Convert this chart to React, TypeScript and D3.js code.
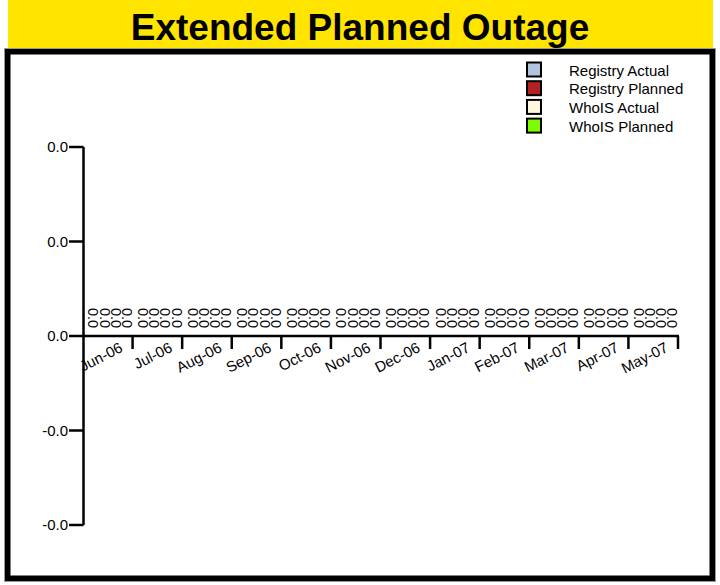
import React from "react";
import * as d3 from "d3";

// data
const months = ["Jun-06", "Jul-06", "Aug-06", "Sep-06", "Oct-06", "Nov-06", "Dec-06", "Jan-07", "Feb-07", "Mar-07", "Apr-07", "May-07"];
const seriesNames = ["Registry Actual", "Registry Planned", "WhoIS Actual", "WhoIS Planned"];
const registryActual = [0, 0, 0, 0, 0, 0, 0, 0, 0, 0, 0, 0];
const registryPlanned = [0, 0, 0, 0, 0, 0, 0, 0, 0, 0, 0, 0];
const whoisActual = [0, 0, 0, 0, 0, 0, 0, 0, 0, 0, 0, 0];
const whoisPlanned = [0, 0, 0, 0, 0, 0, 0, 0, 0, 0, 0, 0];
const seriesColors = ["#B0C4DE", "#B22222", "#FFF8DC", "#7CFC00"];
const yTicks = [-0.02, -0.01, 0, 0.01, 0.02];

const font = "'Liberation Sans', Arial, sans-serif";

export default function App() {
  const width = 720;
  const height = 585;

  const values = [registryActual, registryPlanned, whoisActual, whoisPlanned];

  // scales
  const xScale = d3.scaleBand<string>().domain(months).range([83, 678]);
  const bw = xScale.bandwidth();
  const x1 = d3.scaleBand<string>().domain(seriesNames).range([5, bw]);
  const yScale = d3.scaleLinear().domain([-0.02, 0.02]).range([525, 147]);
  const y0 = yScale(0);

  const fmt = (v: number) => v.toFixed(1);

  return (
    <svg width={width} height={height} style={{ position: "absolute", left: 0, top: 0 }} fontFamily={font}>
      <rect x={0} y={0} width={width} height={height} fill="#fff" />

      {/* title band */}
      <rect x={8} y={0} width={705} height={49} fill="#FFE400" />
      <text x={360} y={40} textAnchor="middle" fontSize={37} fontWeight="bold" fill="#000">
        Extended Planned Outage
      </text>

      {/* frame */}
      <rect x={4.5} y={48.5} width={711} height={533} fill="none" stroke="#999" strokeWidth={1} />
      <rect x={7.75} y={51.75} width={704.5} height={526.5} fill="none" stroke="#000" strokeWidth={5.5} />

      {/* bars and value labels */}
      {months.map((m, mi) => (
        <g key={m} transform={`translate(${xScale(m)},0)`}>
          {seriesNames.map((s, si) => {
            const v = values[si][mi];
            const cx = (x1(s) as number) + x1.bandwidth() / 2;
            return (
              <g key={s}>
                <rect
                  x={x1(s)}
                  y={Math.min(yScale(v), y0)}
                  width={x1.bandwidth()}
                  height={Math.abs(yScale(v) - y0)}
                  fill={seriesColors[si]}
                  stroke="#000"
                  strokeWidth={v === 0 ? 0 : 1}
                />
                <text
                  transform={`translate(${cx},${Math.min(yScale(v), y0) - 18}) rotate(90)`}
                  textAnchor="middle"
                  dy="0.35em"
                  fontSize={14.5}
                  fill="#000"
                >
                  {fmt(v)}
                </text>
              </g>
            );
          })}
        </g>
      ))}

      {/* y axis */}
      <line x1={83.5} x2={83.5} y1={yScale(0.02)} y2={yScale(-0.02)} stroke="#000" strokeWidth={2.5} />
      {yTicks.map((t, i) => (
        <g key={i} transform={`translate(0,${yScale(t)})`}>
          <line x1={69} x2={83.5} stroke="#000" strokeWidth={2.5} />
          <text x={68} dy="0.35em" textAnchor="end" fontSize={15} fill="#000">
            {fmt(t)}
          </text>
        </g>
      ))}

      {/* x axis */}
      <line x1={82.5} x2={679} y1={y0} y2={y0} stroke="#000" strokeWidth={2.5} />
      {months.map((m) => {
        const right = (xScale(m) as number) + bw;
        return <line key={m} x1={right} x2={right} y1={y0} y2={y0 + 13} stroke="#000" strokeWidth={2.5} />;
      })}
      {months.map((m) => {
        const cx = (xScale(m) as number) + bw / 2;
        return (
          <text
            key={m}
            transform={`translate(${cx + 16},${y0 + 15}) rotate(-27)`}
            textAnchor="end"
            fontSize={15}
            fill="#000"
          >
            {m}
          </text>
        );
      })}

      {/* legend */}
      {seriesNames.map((s, i) => (
        <g key={s} transform={`translate(0,${i * 18.7})`}>
          <rect x={527} y={62.5} width={14} height={14} fill={seriesColors[i]} stroke="#000" strokeWidth={2} />
          <text x={569} y={75.5} fontSize={15} fill="#000">
            {s}
          </text>
        </g>
      ))}
    </svg>
  );
}
